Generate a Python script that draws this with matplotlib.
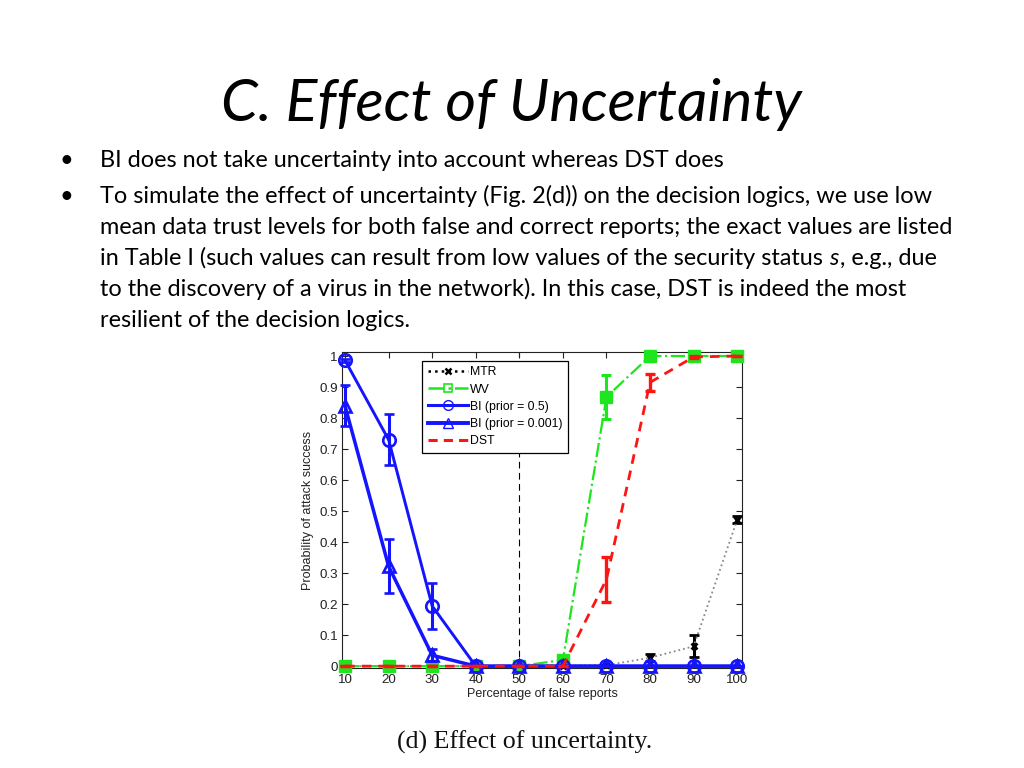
import matplotlib
matplotlib.use("Agg")
import matplotlib.pyplot as plt
from matplotlib.lines import Line2D
import numpy as np

# ---------------- data ----------------
x_pct = [10, 20, 30, 40, 50, 60, 70, 80, 90, 100]
mtr = [0, 0, 0, 0, 0.003, 0.002, 0.003, 0.027, 0.064, 0.472]
mtr_err = [0, 0, 0, 0, 0.006, 0, 0, 0.012, 0.036, 0.011]
wv = [0, 0, 0, 0, 0, 0.02, 0.868, 1.0, 1.0, 1.0]
wv_err = [0, 0, 0, 0, 0, 0.006, 0.07, 0, 0, 0]
bi05 = [0.986, 0.730, 0.194, 0, 0, 0, 0, 0, 0, 0]
bi05_err = [0.006, 0.082, 0.075, 0, 0, 0, 0, 0, 0, 0]
bi001 = [0.839, 0.322, 0.035, 0, 0, 0, 0, 0, 0, 0]
bi001_err = [0.066, 0.087, 0.02, 0, 0, 0, 0, 0, 0, 0]
dst = [0, 0, 0, 0, 0, 0, 0.28, 0.915, 0.997, 1.0]
dst_err = [0, 0, 0, 0, 0, 0, 0.073, 0.028, 0.004, 0]

x_ticks = [10, 20, 30, 40, 50, 60, 70, 80, 90, 100]
y_ticks = [0, 0.1, 0.2, 0.3, 0.4, 0.5, 0.6, 0.7, 0.8, 0.9, 1]
y_ticklabels = ["0", "0.1", "0.2", "0.3", "0.4", "0.5", "0.6", "0.7", "0.8", "0.9", "1"]
series_labels = ["MTR", "WV", "BI (prior = 0.5)", "BI (prior = 0.001)", "DST"]

title = "C. Effect of Uncertainty"
bullet1 = "BI does not take uncertainty into account whereas DST does"
bullet2_lines = [
    "To simulate the effect of uncertainty (Fig. 2(d)) on the decision logics, we use low",
    "mean data trust levels for both false and correct reports; the exact values are listed",
    None,  # line with italic s
    "to the discovery of a virus in the network). In this case, DST is indeed the most",
    "resilient of the decision logics.",
]
line4_parts = ["in Table I (such values can result from low values of the security status ", "s", ", e.g., due"]
caption = "(d) Effect of uncertainty."

W, H = 1024, 768
fig = plt.figure(figsize=(W / 100, H / 100), dpi=100)
fig.patch.set_facecolor("white")

def fx(px):
    return px / W

def fy(py):
    return 1 - py / H

body_font = "Lato"
body_size = 16.9

# title
fig.text(fx(511), fy(121), title, ha="center", va="baseline", fontsize=42.6,
         style="italic", family=body_font, color="black")

# bullets
fig.text(fx(60), fy(167), "•", ha="left", va="baseline", fontsize=body_size, family=body_font)
fig.text(fx(100), fy(167), bullet1, ha="left", va="baseline", fontsize=body_size, family=body_font)
fig.text(fx(60), fy(203), "•", ha="left", va="baseline", fontsize=body_size, family=body_font)
baselines = [203, 234, 265, 296, 327]
for bl, txt in zip(baselines, bullet2_lines):
    if txt is not None:
        fig.text(fx(100), fy(bl), txt, ha="left", va="baseline", fontsize=body_size, family=body_font)

fig.canvas.draw()
renderer = fig.canvas.get_renderer()
xpos = 100
for i, part in enumerate(line4_parts):
    t = fig.text(fx(xpos), fy(265), part, ha="left", va="baseline", fontsize=body_size,
                 family=body_font, style="italic" if i == 1 else "normal")
    bb = t.get_window_extent(renderer=renderer)
    xpos = bb.x1 + (2 if i == 1 else 0)

# caption
fig.text(fx(525), fy(749), caption, ha="center", va="baseline", fontsize=18.6,
         family="Liberation Serif", color="#111111")

# ---------------- chart ----------------
ax = fig.add_axes([fx(342), fy(668), fx(742) - fx(342), (668 - 352) / H])
chart_font = "Liberation Sans"
fs = 9
tick_fs = 9.6

ax.axvline(50, color="black", linestyle=(0, (6, 4)), linewidth=0.8, zorder=1)

green = "#1ee61e"
blue = "#1414ff"
red = "#ff1414"

common = dict(clip_on=False, capsize=3.5)
ax.errorbar(x_pct, mtr, yerr=mtr_err, color="#888888", linestyle=":", linewidth=1.3,
            marker="x", markersize=5, markeredgecolor="black", markeredgewidth=2,
            ecolor="black", elinewidth=2.2, capthick=2.2, zorder=3, **common)
ax.errorbar(x_pct, wv, yerr=wv_err, color=green, linestyle="-.", linewidth=1.6,
            marker="s", markersize=8.5, markerfacecolor=green, markeredgecolor=green,
            ecolor=green, elinewidth=2.2, capthick=2.2, zorder=4, **common)
ax.errorbar(x_pct, bi05, yerr=bi05_err, color=blue, linestyle="-", linewidth=2.1,
            marker="o", markersize=9, markerfacecolor="none", markeredgecolor=blue, markeredgewidth=1.9,
            ecolor=blue, elinewidth=2.2, capthick=2.2, zorder=5, **common)
ax.errorbar(x_pct, bi001, yerr=bi001_err, color=blue, linestyle="-", linewidth=2.5,
            marker="^", markersize=9, markerfacecolor="none", markeredgecolor=blue, markeredgewidth=1.9,
            ecolor=blue, elinewidth=2.2, capthick=2.2, zorder=5, **common)
ax.errorbar(x_pct, dst, yerr=dst_err, color=red, linestyle=(0, (3.5, 2.5)), linewidth=2.0,
            ecolor=red, elinewidth=2.4, capthick=2.4, zorder=6, **common)

ax.set_xlim(9.3, 101.1)
ax.set_ylim(-0.006, 1.013)
ax.set_xticks(x_ticks)
ax.set_xticklabels([str(v) for v in x_ticks], fontsize=tick_fs, family=chart_font)
ax.set_yticks(y_ticks)
ax.set_yticklabels(y_ticklabels, fontsize=tick_fs, family=chart_font)
ax.tick_params(direction="in", top=True, right=True, length=4.5, width=0.8, colors="#222222")
ax.tick_params(axis="x", pad=4.5)
ax.tick_params(axis="y", pad=3)
for sp in ax.spines.values():
    sp.set_linewidth(0.8)
    sp.set_color("#222222")
ax.set_xlabel("Percentage of false reports", fontsize=fs, family=chart_font, labelpad=1.0, color="#222222")
ax.set_ylabel("Probability of attack success", fontsize=fs, family=chart_font, labelpad=4.0, color="#222222")

handles = [
    Line2D([], [], color="black", linestyle=":", linewidth=1.8, marker="x", markersize=4,
           markeredgewidth=1.8),
    Line2D([], [], color=green, linestyle="-.", linewidth=1.8, marker="s", markersize=6,
           markerfacecolor="none", markeredgewidth=1.2),
    Line2D([], [], color=blue, linestyle="-", linewidth=2.2, marker="o", markersize=7,
           markerfacecolor="none", markeredgewidth=1.0),
    Line2D([], [], color=blue, linestyle="-", linewidth=2.8, marker="^", markersize=7,
           markerfacecolor="none", markeredgewidth=1.0),
    Line2D([], [], color=red, linestyle=(0, (3, 2)), linewidth=2.2),
]
leg = ax.legend(handles, series_labels, loc="upper left", bbox_to_anchor=(fx(422), fy(361)),
                bbox_transform=fig.transFigure, borderaxespad=0, fancybox=False, framealpha=1,
                edgecolor="black", prop={"family": chart_font, "size": 8.8}, handlelength=3.3,
                handletextpad=0.2, labelspacing=0.42, borderpad=0.45, numpoints=1)
leg.get_frame().set_linewidth(0.9)
leg.set_zorder(10)

fig.savefig("out.png", dpi=100, facecolor="white")
